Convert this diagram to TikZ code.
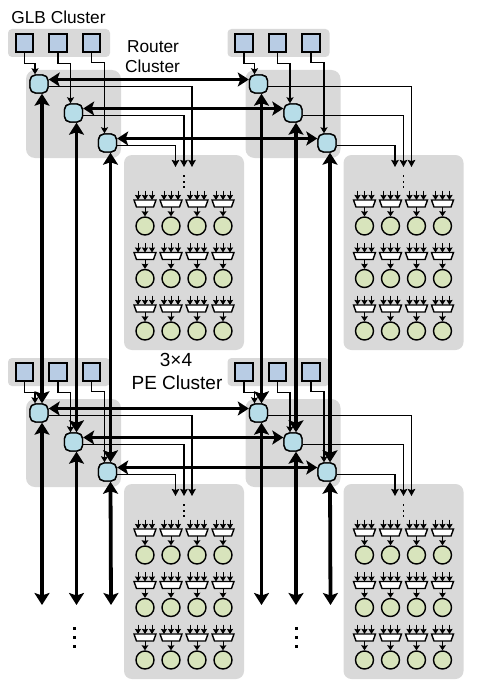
\documentclass[tikz,border=0pt]{standalone}
\usepackage{fontspec}
\setmainfont{Liberation Sans}
\usetikzlibrary{arrows.meta,calc}
\definecolor{bgc}{HTML}{D9D9D9}
\definecolor{glbc}{HTML}{B8CCE4}
\definecolor{rtc}{HTML}{B7DDE8}
\definecolor{pec}{HTML}{D8E4BC}
\tikzset{
  panel/.style={fill=bgc,draw=none,rounded corners=#1},
  glbbox/.style={draw=black,line width=1.6pt,fill=glbc,minimum size=17.5pt,inner sep=0pt},
  router/.style={draw=black,line width=1.4pt,fill=rtc,minimum size=18pt,inner sep=0pt,rounded corners=5.5pt},
  pecirc/.style={circle,draw=black,line width=1.4pt,fill=pec,minimum size=18pt,inner sep=0pt},
  muxshape/.style={draw=black,line width=1.4pt,fill=white,line join=miter},
  thinline/.style={line width=1.2pt,-{Stealth[length=6pt,width=7pt,inset=1pt]}},
  outline/.style={line width=1.4pt,-{Stealth[length=7pt,width=7.5pt,inset=1pt]}},
  hbus/.style={line width=3.1pt,{Stealth[length=11pt,width=14pt,inset=2.5pt]}-{Stealth[length=11pt,width=14pt,inset=2.5pt]}},
  vbus/.style={line width=3.8pt,{Stealth[length=12pt,width=15pt,inset=2.5pt]}-{Stealth[length=12pt,width=15pt,inset=2.5pt]}},
  muxin/.style={line width=1pt,-{Stealth[length=5pt,width=6pt,inset=.5pt]}},
  muxout/.style={line width=1pt,-{Stealth[length=5pt,width=6.5pt,inset=.5pt]}},
  lbl/.style={font=\fontsize{17.3}{19}\selectfont,inner sep=0pt,text=black},
  lblbig/.style={font=\fontsize{19}{21}\selectfont,inner sep=0pt,text=black},
  dotn/.style={fill=black,minimum size=#1,inner sep=0pt},
}
\begin{document}
\begin{tikzpicture}[x=1pt,y=-1pt]
\useasboundingbox (0,0) rectangle (486,690);
\foreach \u/\dx/\dy in {a/0/0,b/219.5/0,c/0/329,d/219.5/329}{
  \begin{scope}[shift={(\dx,\dy)}]
    \fill[panel=4pt] (8,29) rectangle (110,57);
    \fill[panel=9pt] (26,70) rectangle (121,158);
    \fill[panel=8pt] (124,155) rectangle (244,350);
    \node[router] (\u r1) at (39,84) {};
    \node[router] (\u r2) at (73.5,113) {};
    \node[router] (\u r3) at (107.5,143) {};
    \node[glbbox] (\u g1) at (24.5,43) {};
    \node[glbbox] (\u g2) at (58,43) {};
    \node[glbbox] (\u g3) at (91.5,43) {};
    \coordinate (\u p1) at (192,167);
    \coordinate (\u p2) at (184,167);
    \coordinate (\u p3) at (175.5,167);
    \node[dotn=1.8pt] (\u x1) at (184,176) {};
    \node[dotn=1.8pt] (\u x2) at (184,182) {};
    \node[dotn=1.8pt] (\u x3) at (184,187) {};
    \foreach \row/\ry in {1/0,2/52.5,3/105}{
      \foreach \col/\cx in {1/145,2/171,3/197,4/223}{
        \draw[muxshape] (\cx-11,200+\ry) -- (\cx+11,200+\ry) -- (\cx+8.5,207+\ry) -- (\cx-8.5,207+\ry) -- cycle;
        \coordinate (\u m\row\col) at (\cx,207+\ry);
        \node[pecirc] (\u c\row\col) at (\cx,226+\ry) {};
        \draw[muxout] (\u m\row\col) -- (\u c\row\col.north);
        \foreach \k in {-7,0,7}{
          \coordinate (\u i\row\col\k) at (\cx+\k,190.5+\ry);
          \draw[muxin] (\u i\row\col\k) -- (\cx+\k,200+\ry);
        }
      }
    }
  \end{scope}
}
% GLB to router and router to PE links
\foreach \u in {a,b,c,d}{
  \draw[thinline] (\u g1.south) |- ++(0,11) -| ($(\u r1.north)+(-4,0)$);
  \draw[thinline] (\u g2.south) |- ++(0,11) -| ($(\u r2.north)+(-3,0)$);
  \draw[thinline] (\u g3.south) |- ++(0,10) -| ($(\u r3.north)+(-3,0)$);
  \draw[outline] ($(\u r1.east)+(0,2.5)$) -| (\u p1);
  \draw[outline] ($(\u r2.east)+(0,2.5)$) -| (\u p2);
  \draw[outline] ($(\u r3.east)+(0,2.5)$) -| (\u p3);
}
% horizontal buses
\foreach \l/\r in {a/b,c/d}{
  \foreach \i in {1,2,3}{
    \draw[hbus] ($(\l r\i.east)+(0,-4.5)$) -- ($(\r r\i.west)+(0,-4.5)$);
  }
}
% vertical buses
\foreach \t/\b in {a/c,b/d}{
  \foreach \i in {1,2,3}{
    \draw[vbus] ($(\t r\i.south)+(3,0)$) -- ($(\b r\i.north)+(3,0)$);
  }
}
\foreach \b/\dx in {c/0,d/219.5}{
  \coordinate (\b e1) at (42+\dx,605);
  \coordinate (\b e2) at (76.5+\dx,605);
  \coordinate (\b e3) at (111+\dx,605);
  \foreach \i in {1,2,3}{
    \draw[vbus] ($(\b r\i.south)+(3,0)$) -- (\b e\i);
  }
}
% redraw routers above the buses
\foreach \u/\dx/\dy in {a/0/0,b/219.5/0,c/0/329,d/219.5/329}{
  \begin{scope}[shift={(\dx,\dy)}]
    \node[router] at (39,84) {};
    \node[router] at (73.5,113) {};
    \node[router] at (107.5,143) {};
  \end{scope}
}
% continuation dots
\foreach \x/\n in {74.5/l,296/r}{
  \node[dotn=3pt] (\n d1) at (\x,628) {};
  \node[dotn=3pt] (\n d2) at (\x,637) {};
  \node[dotn=3pt] (\n d3) at (\x,646.5) {};
}
% labels
\node[lbl] (t1) at (58.5,17) {GLB Cluster};
\node[lbl] (t2) at (153,47) {Router};
\node[lbl] (t3) at (152.5,66) {Cluster};
\node[lblbig] (t4) at (176,360) {3×4};
\node[lblbig] (t5) at (177,382.5) {PE Cluster};
\end{tikzpicture}
\end{document}
